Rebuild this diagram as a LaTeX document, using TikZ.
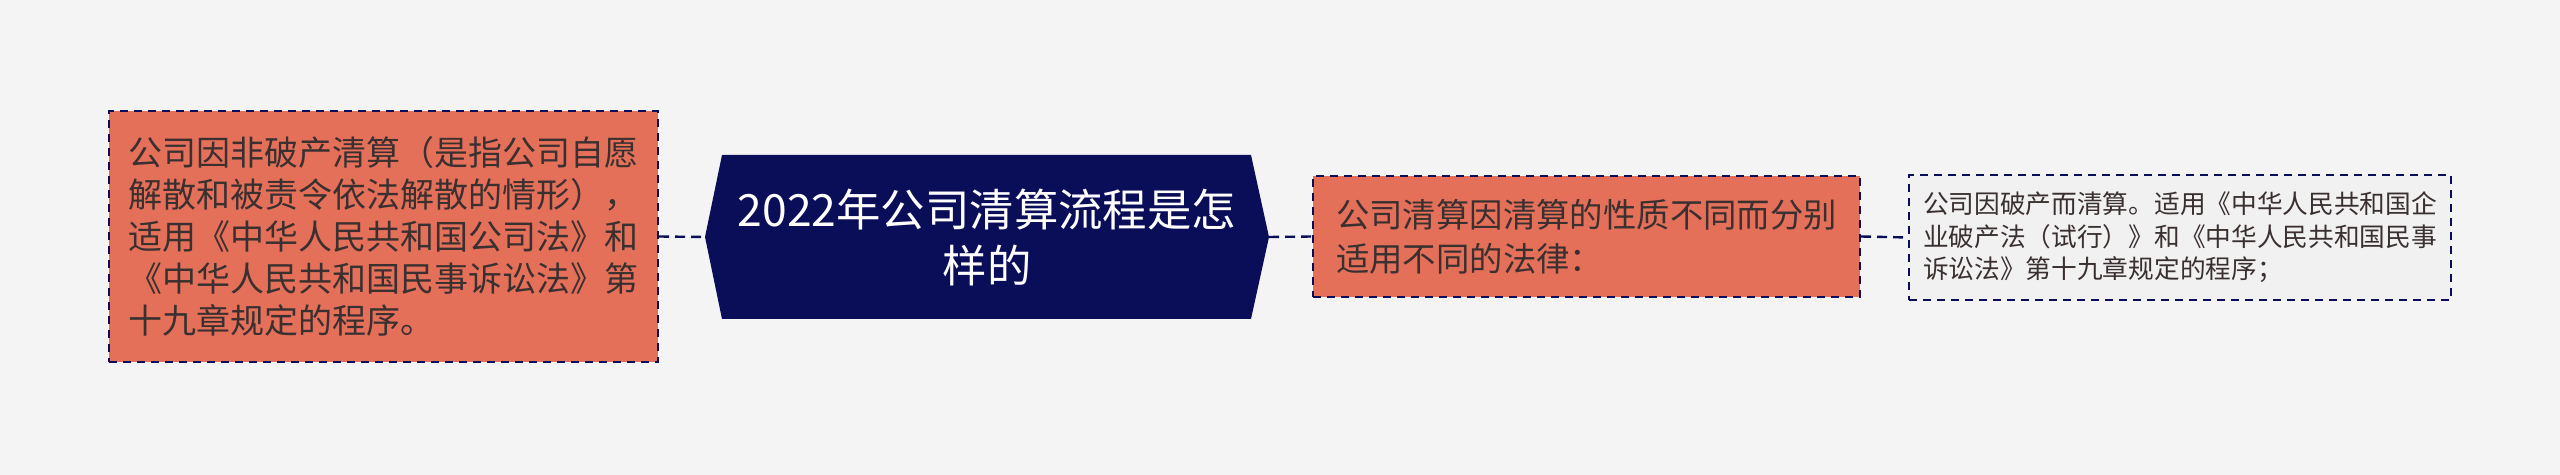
\documentclass[tikz,border=0pt]{standalone}
\usepackage{fontspec}
\setmainfont{Noto Sans CJK SC}
\newfontfamily\cjk{Noto Sans CJK SC}
\definecolor{bgc}{HTML}{F4F4F4}
\definecolor{navy}{HTML}{0A0E58}
\definecolor{orangec}{HTML}{E5705A}
\definecolor{txtc}{HTML}{3A3030}
\definecolor{lightbox}{HTML}{F1F1F1}
\tikzset{
  obox/.style={draw=navy, fill=orangec, line width=1pt, dash pattern=on 4pt off 3pt,
    align=left, text=txtc, inner sep=0pt, anchor=center},
  gbox/.style={draw=navy, fill=lightbox, line width=0.9pt, dash pattern=on 4pt off 3pt,
    align=left, text=txtc, inner sep=0pt, anchor=center},
  link/.style={draw=navy, line width=1.2pt, dash pattern=on 5pt off 3pt},
}
\begin{document}
\begin{tikzpicture}[x=0.5pt,y=-0.5pt]
\useasboundingbox (0,0) rectangle (2560,475);
\fill[bgc] (0,0) rectangle (2560,475);
% left box
\node[obox, minimum width=274.5pt, minimum height=125.5pt,
  font=\cjk\fontsize{17pt}{21pt}\selectfont] (lb) at (383.5,236.5)
  {公司因非破产清算（是指公司自愿\\解散和被责令依法解散的情形），\\适用《中华人民共和国公司法》和\\《中华人民共和国民事诉讼法》第\\十九章规定的程序。};
% center hexagon
\coordinate (cW) at (705,237);
\coordinate (cE) at (1269,237);
\fill[navy] (cW) -- (722,155) -- (1251,155) -- (cE) -- (1251,319) -- (722,319) -- cycle;
\node[text=white, align=center, font=\cjk\fontsize{22.2pt}{28pt}\selectfont] (c) at (987,237)
  {2022年公司清算流程是怎\\样的};
% middle box
\node[obox, minimum width=273.5pt, minimum height=60.5pt,
  font=\cjk\fontsize{16.7pt}{22pt}\selectfont] (mb) at (1586.5,236.5)
  {公司清算因清算的性质不同而分别\\适用不同的法律：};
% right box
\node[gbox, minimum width=271pt, minimum height=62.5pt,
  font=\cjk\fontsize{12.85pt}{16.3pt}\selectfont] (rb) at (2180,237.5)
  {公司因破产而清算。适用《中华人民共和国企\\业破产法（试行）》和《中华人民共和国民事\\诉讼法》第十九章规定的程序；};
% connectors
\draw[link] (lb.east) -- (cW);
\draw[link] (cE) -- (mb.west);
\draw[link] (mb.east) -- (rb.west);
\end{tikzpicture}
\end{document}
